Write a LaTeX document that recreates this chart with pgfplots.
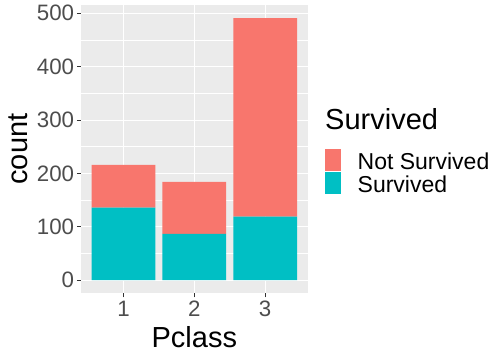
\documentclass[border=0pt]{standalone}
\usepackage{fontspec}
\setmainfont{Liberation Sans}
\usepackage{pgfplots}
\pgfplotsset{compat=1.18}
\definecolor{notsurv}{HTML}{F8766D}
\definecolor{surv}{HTML}{00BFC4}
\definecolor{panel}{HTML}{EBEBEB}
\definecolor{tickc}{HTML}{333333}
\definecolor{ticklab}{HTML}{4D4D4D}
\begin{document}
\begin{tikzpicture}
\useasboundingbox (0,0) rectangle (504bp,360bp);
\begin{axis}[
  at={(81bp,66.7bp)}, anchor=south west,
  scale only axis, width=226.7bp, height=288.3bp,
  xmin=0.4, xmax=3.6, ymin=-24.55, ymax=515.55,
  ybar stacked, bar width=0.9,
  xtick={1,2,3}, ytick={0,100,...,500}, minor ytick={50,150,...,450},
  grid=both,
  major grid style={white, line width=1.07bp},
  minor grid style={white, line width=0.53bp},
  axis background/.style={fill=panel},
  axis line style={draw=none},
  tick align=outside, tick pos=left,
  major tick length=4bp, minor tick length=0pt,
  tick style={tickc, line width=1.07bp},
  /pgf/number format/assume math mode=true,
  yticklabel style={font=\fontsize{22.3bp}{22bp}\selectfont, text=ticklab, inner sep=0, anchor=east, xshift=-2.7bp},
  xticklabel style={font=\fontsize{22.3bp}{22bp}\selectfont, text=ticklab, inner sep=0, anchor=north, yshift=-3.4bp},
  xlabel={Pclass}, ylabel={count},
  xlabel style={at={(axis description cs:0.5,-0.1897)}, anchor=base, inner sep=0, font=\fontsize{29bp}{29bp}\selectfont},
  ylabel style={at={(axis description cs:-0.2322,0.5)}, anchor=south, inner sep=0, font=\fontsize{29bp}{29bp}\selectfont},
  legend style={at={(1.0749,0.5005)}, anchor=north west, draw=none, fill=none, inner sep=0, outer sep=0, row sep=0pt,
    font=\fontsize{23bp}{23bp}\selectfont,
    nodes={inner sep=0, text height=15bp, text depth=2.5bp, anchor=base west},
    /tikz/every odd column/.append style={column sep=17bp}},
  legend image code/.code={\path[#1,draw=none] (0bp,-1.5bp) rectangle (16bp,20.5bp);},
  reverse legend,
]
\addplot[fill=surv, draw=none] coordinates {(1,136) (2,87) (3,119)};
\addlegendentry{Survived}
\addplot[fill=notsurv, draw=none] coordinates {(1,80) (2,97) (3,372)};
\addlegendentry{Not Survived}
\end{axis}
\node[anchor=base west, inner sep=0, font=\fontsize{29bp}{29bp}\selectfont] at (325bp,230bp) {Survived};
\end{tikzpicture}
\end{document}
